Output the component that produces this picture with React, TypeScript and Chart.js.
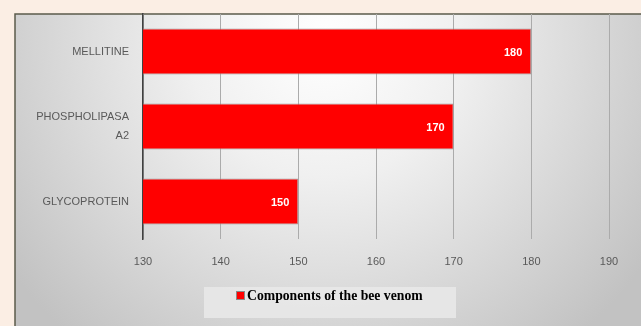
import React, { useEffect, useRef } from "react";
import { Chart, registerables } from "chart.js";

Chart.register(...registerables);

const categories: (string | string[])[] = ["MELLITINE", ["PHOSPHOLIPASA", "A2"], "GLYCOPROTEIN"];
const values: number[] = [180, 170, 150];
const seriesName = "Components of the bee venom";
const xMin = 130;
const xMax = 190;
const xStep = 10;

const W = 641;
const H = 326;

const bgPlugin = {
  id: "bgPlugin",
  beforeDraw(chart: any) {
    const ctx = chart.ctx;
    ctx.save();
    ctx.fillStyle = "#FBEEE4";
    ctx.fillRect(0, 0, W, H);
    const g = ctx.createRadialGradient(325, 40, 0, 325, 40, 390);
    g.addColorStop(0, "#ffffff");
    g.addColorStop(0.35, "#f0f0f0");
    g.addColorStop(1, "#c2c2c2");
    ctx.fillStyle = g;
    ctx.fillRect(15, 14, W - 15, H - 14);
    ctx.strokeStyle = "#5B5B4B";
    ctx.lineWidth = 1.5;
    ctx.beginPath();
    ctx.moveTo(15, H);
    ctx.lineTo(15, 14);
    ctx.lineTo(W, 14);
    ctx.stroke();
    ctx.restore();
  },
};

const labelPlugin = {
  id: "labelPlugin",
  afterDatasetsDraw(chart: any) {
    const ctx = chart.ctx;
    const meta = chart.getDatasetMeta(0);
    ctx.save();
    ctx.fillStyle = "#ffffff";
    ctx.font = "bold 11px 'Liberation Sans', Arial, sans-serif";
    ctx.textAlign = "right";
    ctx.textBaseline = "middle";
    meta.data.forEach((bar: any, i: number) => {
      ctx.fillText(String(values[i]), bar.x - 9, bar.y + 1);
    });
    ctx.restore();
  },
};

const legendPlugin = {
  id: "legendPlugin",
  afterDraw(chart: any) {
    const ctx = chart.ctx;
    ctx.save();
    ctx.fillStyle = "rgba(232,232,232,0.9)";
    ctx.fillRect(204, 287, 252, 31);
    ctx.fillStyle = "#FF0000";
    ctx.fillRect(236.5, 291.5, 8, 8);
    ctx.strokeStyle = "#8a8a8a";
    ctx.lineWidth = 1;
    ctx.strokeRect(236.5, 291.5, 8, 8);
    ctx.fillStyle = "#000000";
    ctx.font = "bold 13.7px 'Liberation Serif', 'Times New Roman', serif";
    ctx.textAlign = "left";
    ctx.textBaseline = "middle";
    ctx.fillText(seriesName, 247, 296);
    ctx.restore();
  },
};

export default function App() {
  const ref = useRef<HTMLCanvasElement | null>(null);
  useEffect(() => {
    if (!ref.current) return;
    const chart = new Chart(ref.current, {
      type: "bar",
      data: {
        labels: categories,
        datasets: [
          {
            label: seriesName,
            data: values,
            backgroundColor: "#FF0000",
            borderColor: "#9a9a9a",
            borderWidth: 1,
            borderSkipped: false,
            categoryPercentage: 1,
            barPercentage: 0.615,
          },
        ],
      },
      options: {
        indexAxis: "y",
        animation: false,
        responsive: false,
        maintainAspectRatio: false,
        layout: { padding: { top: 14, right: 32, left: 0, bottom: 0 } },
        plugins: {
          legend: { display: false },
          tooltip: { enabled: false },
          title: { display: false },
        },
        scales: {
          x: {
            min: xMin,
            max: xMax,
            ticks: {
              stepSize: xStep,
              color: "#595959",
              font: { family: "'Liberation Sans', Arial, sans-serif", size: 11 },
              padding: 16,
            },
            grid: { color: "#ababab", lineWidth: 1, drawTicks: false },
            border: { display: false },
            afterFit(scale: any) {
              scale.height = H - 239;
              scale.paddingLeft = 0;
              scale.paddingRight = 0;
            },
          },
          y: {
            ticks: {
              color: "#595959",
              font: { family: "'Liberation Sans', Arial, sans-serif", size: 11, lineHeight: 1.7 },
              padding: 14,
            },
            grid: { display: false, drawTicks: false },
            border: { display: true, color: "#404040", width: 1.5 },
            afterFit(scale: any) {
              scale.width = 143;
              scale.paddingTop = 0;
              scale.paddingBottom = 0;
            },
          },
        },
      },
      plugins: [bgPlugin, labelPlugin, legendPlugin],
    });
    return () => chart.destroy();
  }, []);
  return (
    <div style={{ position: "fixed", left: 0, top: 0, width: W, height: H }}>
      <canvas ref={ref} width={W} height={H} />
    </div>
  );
}
